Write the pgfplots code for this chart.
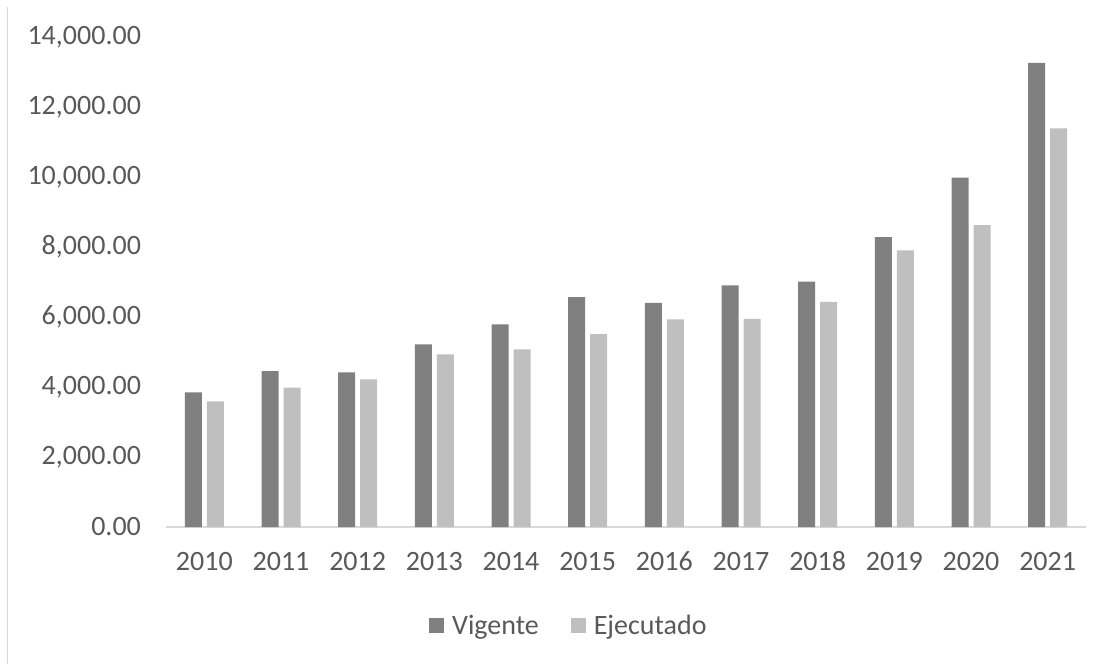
\documentclass[border=0pt]{standalone}
\usepackage{pgfplots}
\pgfplotsset{compat=1.18}
\usepackage{fontspec}
\setmainfont{Carlito}
\definecolor{vig}{HTML}{808080}
\definecolor{eje}{HTML}{BFBFBF}
\definecolor{txt}{HTML}{595959}
\definecolor{axl}{HTML}{D9D9D9}
\begin{document}
\begin{tikzpicture}
\useasboundingbox (-83pt,-68.5pt) rectangle (473pt,263.5pt);
\draw[axl, line width=0.8pt] (-79.25pt,260pt) -- (-79.25pt,-68.5pt);
\begin{axis}[
  scale only axis,
  width=460pt, height=245pt,
  xmin=-0.5, xmax=11.5,
  ymin=0, ymax=14000,
  ybar=2.5pt, bar width=8.5pt,
  axis y line*=left,
  y axis line style={draw=none},
  axis x line*=bottom,
  x axis line style={axl, line width=0.8pt, -},
  major tick length=0pt,
  xtick={0,...,11},
  xticklabels={2010,2011,2012,2013,2014,2015,2016,2017,2018,2019,2020,2021},
  ytick={0,2000,...,14000},
  scaled y ticks=false,
  font=\fontsize{14}{16.8}\selectfont,
  tick label style={text=txt},
  /pgf/number format/assume math mode=true,
  yticklabel={\pgfmathprintnumber[fixed, fixed zerofill, precision=2, 1000 sep={,}]{\tick}},
  yticklabel style={anchor=east, xshift=-9pt},
  xticklabel style={anchor=base, yshift=-21.5pt},
  legend columns=2,
  legend style={draw=none, fill=none, at={(0.439,-0.202)}, anchor=center,
    font=\fontsize{14}{16.8}\selectfont, text=txt,
    /tikz/every even column/.append style={column sep=14pt}},
  legend image code/.code={\fill[#1] (0pt,-3.75pt) rectangle (7.5pt,3.75pt); \path (9.5pt,0pt);},
]
\addplot[fill=vig, draw=none] coordinates {(0,3849) (1,4457) (2,4420) (3,5219) (4,5791) (5,6571) (6,6400) (7,6905) (8,7014) (9,8280) (10,9983) (11,13260)};
\addplot[fill=eje, draw=none] coordinates {(0,3591) (1,3980) (2,4220) (3,4934) (4,5077) (5,5514) (6,5934) (7,5943) (8,6431) (9,7902) (10,8626) (11,11391)};
\legend{Vigente,Ejecutado}
\end{axis}
\end{tikzpicture}
\end{document}
